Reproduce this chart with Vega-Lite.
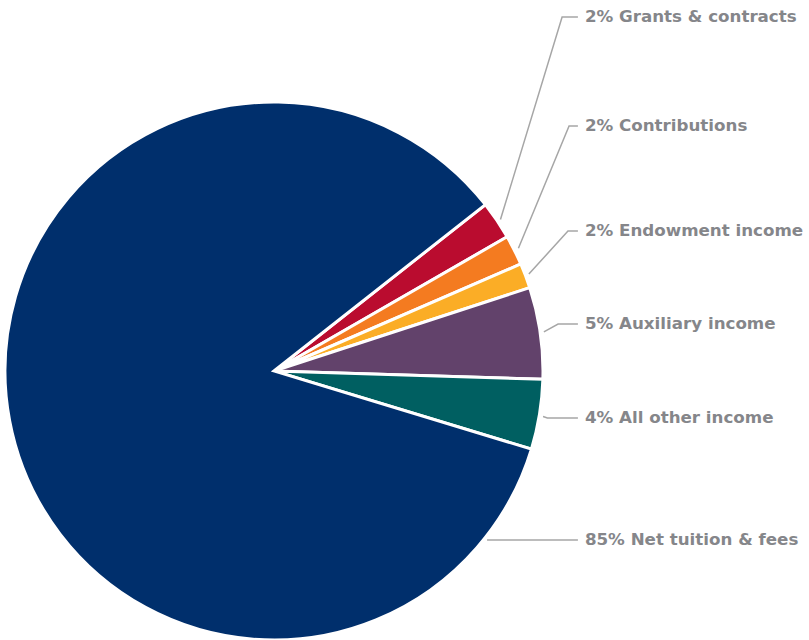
{
  "$schema": "https://vega.github.io/schema/vega-lite/v6.json",
  "width": 536,
  "height": 536,
  "autosize": {"type": "none"},
  "padding": {"left": 6, "top": 103, "right": 267, "bottom": 1},
  "background": "white",
  "config": {"view": {"stroke": null}},
  "datasets": {
    "slices": [
      {"category": "Grants & contracts", "value": 2.3, "rank": 1},
      {"category": "Contributions", "value": 1.8, "rank": 2},
      {"category": "Endowment income", "value": 1.5, "rank": 3},
      {"category": "Auxiliary income", "value": 5.5, "rank": 4},
      {"category": "All other income", "value": 4.2, "rank": 5},
      {"category": "Net tuition & fees", "value": 84.7, "rank": 6}
    ],
    "leaders": [
      {"category": "Grants & contracts", "seq": 0, "u": 0.845, "v": 0.565},
      {"category": "Grants & contracts", "seq": 1, "u": 1.075, "v": 1.321},
      {"category": "Grants & contracts", "seq": 2, "u": 1.134, "v": 1.321},
      {"category": "Contributions", "seq": 0, "u": 0.912, "v": 0.458},
      {"category": "Contributions", "seq": 1, "u": 1.101, "v": 0.914},
      {"category": "Contributions", "seq": 2, "u": 1.134, "v": 0.914},
      {"category": "Endowment income", "seq": 0, "u": 0.951, "v": 0.362},
      {"category": "Endowment income", "seq": 1, "u": 1.097, "v": 0.522},
      {"category": "Endowment income", "seq": 2, "u": 1.134, "v": 0.522},
      {"category": "Auxiliary income", "seq": 0, "u": 1.007, "v": 0.146},
      {"category": "Auxiliary income", "seq": 1, "u": 1.06, "v": 0.175},
      {"category": "Auxiliary income", "seq": 2, "u": 1.134, "v": 0.175},
      {"category": "All other income", "seq": 0, "u": 1.004, "v": -0.17},
      {"category": "All other income", "seq": 1, "u": 1.02, "v": -0.175},
      {"category": "All other income", "seq": 2, "u": 1.134, "v": -0.175},
      {"category": "Net tuition & fees", "seq": 0, "u": 0.795, "v": -0.631},
      {"category": "Net tuition & fees", "seq": 1, "u": 0.9, "v": -0.631},
      {"category": "Net tuition & fees", "seq": 2, "u": 1.134, "v": -0.631}
    ],
    "labels": [
      {"text": "2% Grants & contracts", "u": 1.16, "v": 1.321},
      {"text": "2% Contributions", "u": 1.16, "v": 0.914},
      {"text": "2% Endowment income", "u": 1.16, "v": 0.522},
      {"text": "5% Auxiliary income", "u": 1.16, "v": 0.175},
      {"text": "4% All other income", "u": 1.16, "v": -0.175},
      {"text": "85% Net tuition & fees", "u": 1.16, "v": -0.631}
    ]
  },
  "layer": [
    {
      "data": {"name": "slices"},
      "mark": {"type": "arc", "outerRadius": 269, "stroke": "white", "strokeWidth": 3},
      "encoding": {
        "theta": {"field": "value", "type": "quantitative", "stack": true, "scale": {"range": [0.904, 7.1872]}},
        "order": {"field": "rank", "type": "quantitative"},
        "color": {
          "field": "category", "type": "nominal", "legend": null,
          "scale": {
            "domain": ["Grants & contracts", "Contributions", "Endowment income", "Auxiliary income", "All other income", "Net tuition & fees"],
            "range": ["#ba0c2f", "#f47b20", "#fbad26", "#62426b", "#005f61", "#002f6c"]
          }
        }
      }
    },
    {
      "data": {"name": "leaders"},
      "mark": {"type": "line", "color": "#a6a6a6", "strokeWidth": 1.5, "clip": false},
      "encoding": {
        "x": {"field": "u", "type": "quantitative", "axis": null, "scale": {"domain": [-1, 1], "nice": false, "zero": false}},
        "y": {"field": "v", "type": "quantitative", "axis": null, "scale": {"domain": [-1, 1], "nice": false, "zero": false}},
        "detail": {"field": "category"},
        "order": {"field": "seq", "type": "quantitative"}
      }
    },
    {
      "data": {"name": "labels"},
      "mark": {"type": "text", "align": "left", "baseline": "middle", "font": "DejaVu Sans", "fontWeight": "bold", "fontSize": 16.7, "color": "#85868a", "clip": false},
      "encoding": {
        "x": {"field": "u", "type": "quantitative"},
        "y": {"field": "v", "type": "quantitative"},
        "text": {"field": "text"}
      }
    }
  ]
}
